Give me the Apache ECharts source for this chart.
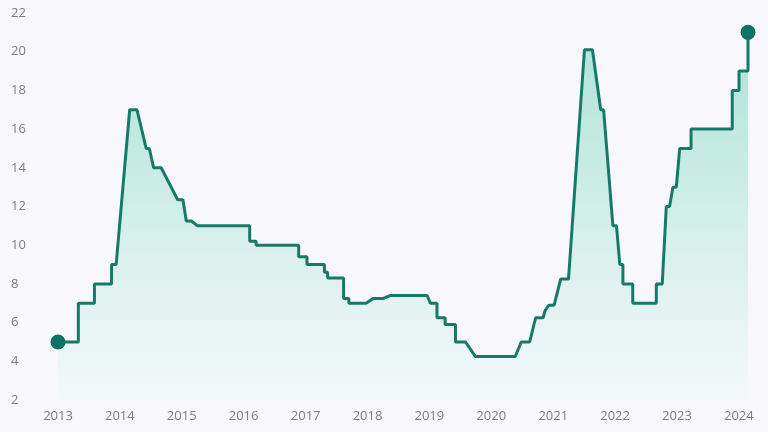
<!DOCTYPE html>
<html>
<head>
<meta charset="utf-8">
<script src="https://cdn.jsdelivr.net/npm/echarts@6/dist/echarts.min.js"></script>
<style>
  html, body { margin: 0; padding: 0; background: #f8f8fc; }
  #chart { width: 768px; height: 432px; }
</style>
</head>
<body>
<div id="chart"></div>
<script>
// rate path (vertices of the line)
var dates = [
  '2013-01-01', '2013-05-01', '2013-05-01', '2013-08-04', '2013-08-04', '2013-11-13', '2013-11-13', '2013-12-10',
  '2014-02-28', '2014-04-12', '2014-06-05', '2014-06-24', '2014-07-19', '2014-09-02', '2014-12-08',
  '2015-01-08', '2015-01-28', '2015-02-27', '2015-04-05',
  '2016-02-06', '2016-02-06', '2016-03-15', '2016-03-15', '2016-11-21', '2016-11-21',
  '2017-01-09', '2017-01-09', '2017-04-22', '2017-04-22', '2017-05-11', '2017-05-11', '2017-08-13', '2017-08-13',
  '2017-09-13', '2017-09-13', '2017-12-24',
  '2018-02-03', '2018-04-05', '2018-05-14', '2018-12-19',
  '2019-01-07', '2019-02-15', '2019-02-15', '2019-04-04', '2019-04-04', '2019-06-04', '2019-06-04', '2019-08-02', '2019-09-29',
  '2020-05-22', '2020-06-26', '2020-08-15', '2020-09-19', '2020-11-02', '2020-11-15', '2020-12-07',
  '2021-01-06', '2021-02-14', '2021-04-01', '2021-07-04', '2021-08-20', '2021-10-08', '2021-10-25', '2021-12-19',
  '2022-01-09', '2022-01-29', '2022-02-16', '2022-02-16', '2022-04-15', '2022-04-15', '2022-09-01', '2022-09-01',
  '2022-10-06', '2022-10-30', '2022-11-18', '2022-12-08', '2022-12-28',
  '2023-01-17', '2023-03-25', '2023-03-25', '2023-11-23', '2023-11-23',
  '2024-01-02', '2024-01-02', '2024-02-24', '2024-02-24'
];
var rates = [
  5, 5, 7, 7, 8, 8, 9, 9,
  17, 17, 15, 15, 14, 14, 12.35,
  12.35, 11.25, 11.25, 11,
  11, 10.2, 10.2, 10, 10, 9.4,
  9.4, 9, 9, 8.6, 8.6, 8.3, 8.3, 7.25,
  7.25, 7, 7,
  7.25, 7.25, 7.4, 7.4,
  7, 7, 6.25, 6.25, 5.9, 5.9, 5, 5, 4.25,
  4.25, 5, 5, 6.25, 6.25, 6.64, 6.9,
  6.9, 8.25, 8.25, 20.1, 20.1, 17, 17, 11,
  11, 9, 9, 8, 8, 7, 7, 8,
  8, 12, 12, 13, 13,
  15, 15, 16, 16, 18,
  18, 19, 19, 21
];
var yTicks = { min: 2, max: 22, step: 2 };

var seriesData = dates.map(function (d, i) { return [d, rates[i]]; });
var ends = [seriesData[0], seriesData[seriesData.length - 1]];

var myChart = echarts.init(document.getElementById('chart'));

option = {
    backgroundColor: '#f8f8fc',
    animation: false,
    grid: { left: 58, right: 20, top: 13, bottom: 32 },
    xAxis: {
        type: 'time',
        min: dates[0],
        max: dates[dates.length - 1],
        minInterval: 365 * 24 * 3600 * 1000,
        maxInterval: 366 * 24 * 3600 * 1000,
        axisLine: { show: false },
        axisTick: { show: false },
        splitLine: { show: false },
        axisLabel: {
            color: '#7c7c84',
            fontFamily: 'Open Sans',
            fontSize: 13,
            margin: 10,
            formatter: '{yyyy}'
        }
    },
    yAxis: {
        type: 'value',
        min: yTicks.min,
        max: yTicks.max,
        interval: yTicks.step,
        axisLine: { show: false },
        axisTick: { show: false },
        splitLine: { show: false },
        axisLabel: {
            color: '#7c7c84',
            fontFamily: 'Open Sans',
            fontSize: 13,
            align: 'left',
            margin: 47
        }
    },
    series: [
        {
            type: 'line',
            data: seriesData,
            showSymbol: false,
            lineStyle: { color: '#167a69', width: 3 },
            areaStyle: {
                color: new echarts.graphic.LinearGradient(0, 0, 0, 1, [
                    { offset: 0, color: '#8edac8' },
                    { offset: 0.5, color: '#c2eae0' },
                    { offset: 1, color: '#f2f8fb' }
                ])
            },
            z: 2
        },
        {
            type: 'scatter',
            data: ends,
            symbol: 'circle',
            symbolSize: 15,
            itemStyle: { color: '#0b7464', opacity: 1 },
            z: 3
        }
    ]
};
myChart.setOption(option);
</script>
</body>
</html>
